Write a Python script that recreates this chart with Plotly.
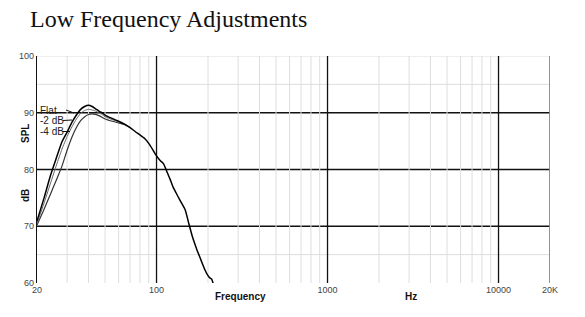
import plotly.graph_objects as go

# ---- data ----
freq_flat = [20, 22, 24, 26, 28, 30, 32, 34, 36, 38, 40, 42, 44, 46, 48, 50, 55, 60, 65,
             70, 75, 80, 85, 90, 95, 100, 105, 110, 115, 120, 125, 130, 137, 147, 155,
             162, 167, 173, 180, 186, 192, 200, 205, 210, 215]
spl_flat = [70.9, 75.0, 79.0, 82.1, 84.9, 86.6, 88.3, 89.6, 90.6, 91.1, 91.3, 91.1, 90.7,
            90.3, 90.0, 89.6, 89.0, 88.5, 88.0,
            87.4, 86.7, 86.1, 85.5, 84.6, 83.5, 82.4, 81.6, 81.0, 79.6, 78.3, 76.9, 75.9,
            74.6, 72.9, 70.3, 68.2, 67.0, 65.7, 64.4, 63.3, 62.3, 61.3, 60.9, 60.7, 59.8]

freq_m2 = [20, 22, 24, 26, 28, 30, 32, 34, 36, 38, 40, 42, 44, 46, 48, 50, 55, 60, 65, 70]
spl_m2 = [70.5, 74.1, 77.6, 80.8, 83.6, 85.8, 87.5, 88.9, 89.9, 90.4, 90.6, 90.5, 90.3,
          90.0, 89.7, 89.3, 88.8, 88.4, 88.0, 87.4]

freq_m4 = [20, 22, 24, 26, 28, 30, 32, 34, 36, 38, 40, 42, 44, 46, 48, 50, 55, 60, 65, 70]
spl_m4 = [70.2, 73.0, 75.7, 78.2, 80.6, 83.4, 85.7, 87.4, 88.6, 89.3, 89.7, 89.8, 89.7,
          89.5, 89.2, 88.9, 88.5, 88.2, 87.9, 87.4]

x_ticks = [20, 100, 1000, 10000, 20000]
x_ticktext = ["20", "100", "1000", "10000", "20K"]
y_ticks = [60, 70, 80, 90, 100]
minor_freqs = [30, 40, 50, 60, 70, 80, 90, 200, 300, 400, 500, 600, 700, 800, 900,
               2000, 3000, 4000, 5000, 6000, 7000, 8000, 9000]
major_freqs = [100, 1000, 10000]
major_db = [70, 80, 90]
minor_db = [65, 95, 100]

fig = go.Figure()

def vlines(xs):
    xx, yy = [], []
    for v in xs:
        xx += [v, v, None]
        yy += [60, 100, None]
    return xx, yy

mx, my = vlines(minor_freqs)
fig.add_trace(go.Scatter(x=mx, y=my, mode="lines", line=dict(color="#dedede", width=1),
                         hoverinfo="skip", showlegend=False))
Mx, My = vlines(major_freqs)
fig.add_trace(go.Scatter(x=Mx, y=My, mode="lines", line=dict(color="#111", width=1.3),
                         hoverinfo="skip", showlegend=False))
Rx, Ry = vlines([20000])
fig.add_trace(go.Scatter(x=Rx, y=Ry, mode="lines", line=dict(color="#888", width=1.8),
                         hoverinfo="skip", showlegend=False))

shapes = []
for d in minor_db:
    shapes.append(dict(type="line", xref="paper", x0=0, x1=1, yref="y", y0=d, y1=d,
                       line=dict(color="#dedede", width=1), layer="below"))
for d in major_db:
    shapes.append(dict(type="line", xref="paper", x0=0, x1=1, yref="y", y0=d, y1=d,
                       line=dict(color="#111", width=1.6), layer="below"))

fig.add_trace(go.Scatter(x=freq_m4, y=spl_m4, mode="lines", name="-4 dB",
                         line=dict(color="#333", width=1.2, shape="spline", smoothing=0.5)))
fig.add_trace(go.Scatter(x=freq_m2, y=spl_m2, mode="lines", name="-2 dB",
                         line=dict(color="#666", width=1.0, shape="spline", smoothing=0.5)))
fig.add_trace(go.Scatter(x=freq_flat, y=spl_flat, mode="lines", name="Flat",
                         line=dict(color="#000", width=1.5, shape="spline", smoothing=0.5)))

# curve labels with leader lines (paper coords)
W, H = 513.0, 227.0
def px(xp):
    return (xp - 37) / W
def py(yp):
    return (283 - yp) / H

labels = [("Flat", 110, (66, 110, 74, 113)),
          ("-2 dB", 120.5, (63, 120.5, 72, 120)),
          ("-4 dB", 131.5, (62, 131.5, 70, 131.5))]
annos = []
for text, yp, (x0, y0, x1, y1) in labels:
    annos.append(dict(text=text, xref="paper", yref="paper", x=px(38), y=py(yp),
                      xanchor="left", yanchor="middle", showarrow=False,
                      font=dict(family="Liberation Sans, Arial", size=10, color="#222")))
    shapes.append(dict(type="line", xref="paper", yref="paper", x0=px(x0), y0=py(y0),
                       x1=px(x1), y1=py(y1), line=dict(color="#111", width=1)))

annos += [
    dict(text="<b>Frequency</b>", xref="paper", yref="paper", x=px(240), y=py(296),
         xanchor="center", yanchor="middle", showarrow=False,
         font=dict(family="Liberation Sans, Arial", size=10, color="#111")),
    dict(text="<b>Hz</b>", xref="paper", yref="paper", x=px(411), y=py(296),
         xanchor="center", yanchor="middle", showarrow=False,
         font=dict(family="Liberation Sans, Arial", size=10, color="#111")),
    dict(text="<b>SPL</b>", xref="paper", yref="paper", x=px(25), y=py(134),
         xanchor="center", yanchor="middle", showarrow=False, textangle=-90,
         font=dict(family="Liberation Sans, Arial", size=10, color="#111")),
    dict(text="<b>dB</b>", xref="paper", yref="paper", x=px(25), y=py(196),
         xanchor="center", yanchor="middle", showarrow=False, textangle=-90,
         font=dict(family="Liberation Sans, Arial", size=10, color="#111")),
]

fig.update_layout(
    width=585, height=317,
    margin=dict(l=37, r=35, t=56, b=34),
    paper_bgcolor="white", plot_bgcolor="white",
    showlegend=False,
    title=dict(text="Low Frequency Adjustments", x=30 / 585, xanchor="left",
               y=1 - 19 / 317, yanchor="middle", xref="container", yref="container",
               font=dict(family="Liberation Serif, Times New Roman, serif", size=24,
                         color="#111")),
    shapes=shapes,
    annotations=annos,
    xaxis=dict(type="log", range=[1.30103, 4.30103], tickvals=x_ticks,
               ticktext=x_ticktext, showgrid=False, zeroline=False, showline=False,
               ticks="", tickfont=dict(family="Liberation Sans, Arial", size=9,
                                       color="#444")),
    yaxis=dict(range=[60, 100], tickvals=y_ticks, showgrid=False, zeroline=False,
               showline=True, linecolor="#111", linewidth=1.2, ticks="",
               tickfont=dict(family="Liberation Sans, Arial", size=9, color="#444")),
)

fig.write_html("out.html")
